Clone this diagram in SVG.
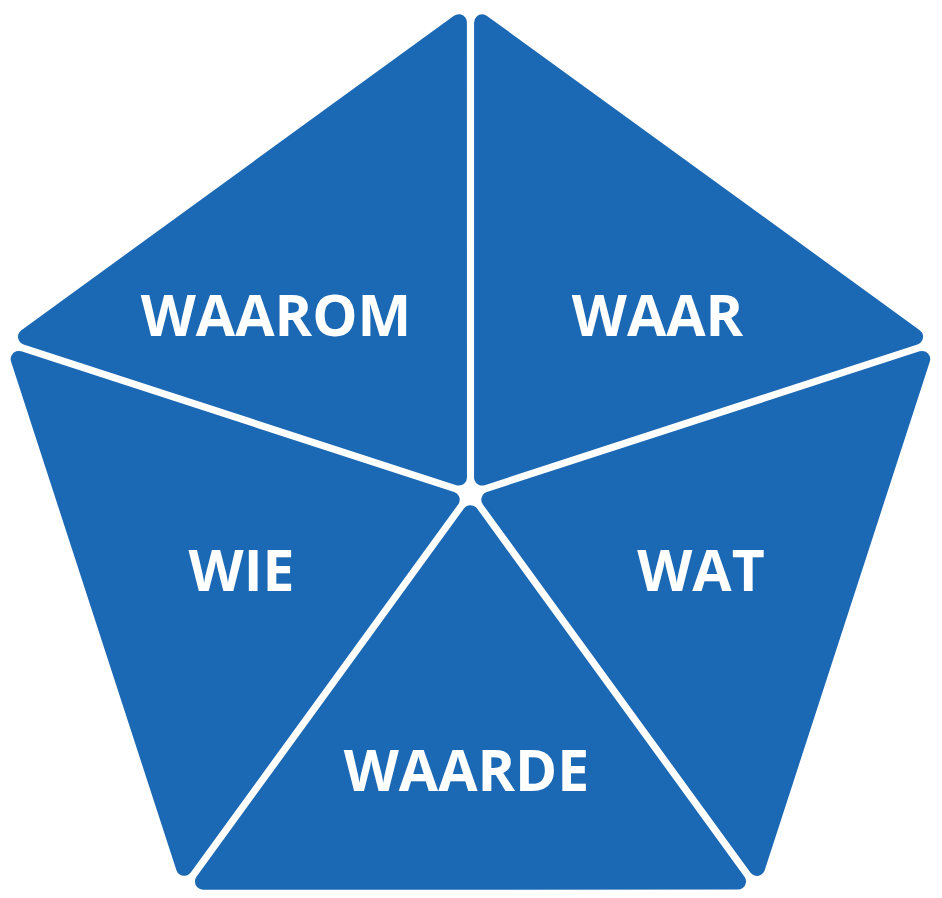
<svg xmlns="http://www.w3.org/2000/svg" xmlns:xlink="http://www.w3.org/1999/xlink" width="942" height="898" viewBox="0 0 942 898">
  <style>
    .seg { fill: #1B69B4; stroke: #1B69B4; stroke-width: 16; stroke-linejoin: round; }
    .lbl { fill: #FFFFFF; font-family: "Open Sans", "Liberation Sans", sans-serif; font-weight: 700; font-size: 57px; text-anchor: middle; }
  </style>
  <defs>
    <path id="tri" transform="translate(470.5 493.5) scale(1.018) translate(-470.5 -495.3)" d="M482,479.5 L482,32.6 L907.1,341.3 Z"/>
  </defs>
  <rect width="942" height="898" fill="#FFFFFF"/>
  <g id="waar">
    <use xlink:href="#tri" href="#tri" class="seg"/>
    <text class="lbl" x="657.5" y="335.5">WAAR</text>
  </g>
  <g id="wat">
    <use xlink:href="#tri" href="#tri" class="seg" transform="rotate(72 470.5 493.5)"/>
    <text class="lbl" x="701" y="590.5">WAT</text>
  </g>
  <g id="waarde">
    <use xlink:href="#tri" href="#tri" class="seg" transform="rotate(144 470.5 493.5)"/>
    <text class="lbl" x="466.5" y="790.5">WAARDE</text>
  </g>
  <g id="wie">
    <use xlink:href="#tri" href="#tri" class="seg" transform="rotate(216 470.5 493.5)"/>
    <text class="lbl" x="241.5" y="590.5">WIE</text>
  </g>
  <g id="waarom">
    <use xlink:href="#tri" href="#tri" class="seg" transform="rotate(288 470.5 493.5)"/>
    <text class="lbl" x="276" y="335.5">WAAROM</text>
  </g>
  <g id="connectors"/>
</svg>
